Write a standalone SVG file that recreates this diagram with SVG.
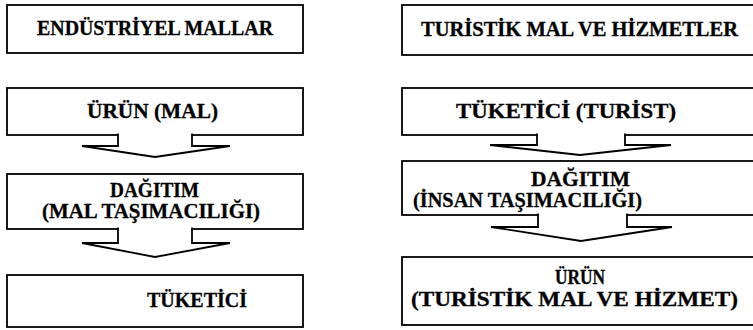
<svg xmlns="http://www.w3.org/2000/svg" width="753" height="330" viewBox="0 0 753 330">
  <style>
    .box { fill: #ffffff; stroke: #000000; stroke-width: 1.8; }
    .arrow { fill: #ffffff; stroke: #000000; stroke-width: 1.8; stroke-linejoin: miter; }
    .lbl { font-family: "Liberation Serif", "Times New Roman", serif; font-weight: bold; font-size: 20.5px; fill: #000000; stroke: #000000; stroke-width: 0.3; }
  </style>
  <rect width="753" height="330" fill="#ffffff"/>

  <!-- left column: industrial goods -->
  <g id="endustriyel-mallar">
    <rect class="box" x="7" y="5" width="296" height="48"/>
    <text class="lbl" x="37" y="35" textLength="236" lengthAdjust="spacingAndGlyphs">ENDÜSTRİYEL MALLAR</text>
  </g>
  <g id="urun-mal">
    <rect class="box" x="7" y="88" width="296" height="47"/>
    <text class="lbl" x="87" y="118" textLength="131" lengthAdjust="spacingAndGlyphs">ÜRÜN (MAL)</text>
  </g>
  <g id="dagitim-mal">
    <rect class="box" x="7" y="174" width="296" height="55"/>
    <text class="lbl" x="110" y="197" textLength="89" lengthAdjust="spacingAndGlyphs">DAĞITIM</text>
    <text class="lbl" x="42" y="218" textLength="218" lengthAdjust="spacingAndGlyphs">(MAL TAŞIMACILIĞI)</text>
  </g>
  <g id="tuketici">
    <rect class="box" x="7" y="275" width="296" height="52"/>
    <text class="lbl" x="147" y="307" textLength="100" lengthAdjust="spacingAndGlyphs">TÜKETİCİ</text>
  </g>

  <!-- right column: tourism goods and services -->
  <g id="turistik-mal-hizmetler">
    <rect class="box" x="402" y="5" width="360" height="50"/>
    <text class="lbl" x="421" y="36" textLength="317" lengthAdjust="spacingAndGlyphs">TURİSTİK MAL VE HİZMETLER</text>
  </g>
  <g id="tuketici-turist">
    <rect class="box" x="402" y="88" width="360" height="47"/>
    <text class="lbl" x="456" y="118" textLength="220" lengthAdjust="spacingAndGlyphs">TÜKETİCİ (TURİST)</text>
  </g>
  <g id="dagitim-insan">
    <rect class="box" x="402" y="161" width="360" height="54"/>
    <text class="lbl" x="531" y="186" textLength="99" lengthAdjust="spacingAndGlyphs">DAĞITIM</text>
    <text class="lbl" x="413" y="207" textLength="229" lengthAdjust="spacingAndGlyphs">(İNSAN TAŞIMACILIĞI)</text>
  </g>
  <g id="urun-turistik">
    <rect class="box" x="402" y="257" width="360" height="68"/>
    <text class="lbl" x="555" y="284" textLength="50" lengthAdjust="spacingAndGlyphs">ÜRÜN</text>
    <text class="lbl" x="411" y="306" textLength="327" lengthAdjust="spacingAndGlyphs">(TURİSTİK MAL VE HİZMET)</text>
  </g>

  <!-- block arrows growing out of the box bottoms -->
  <g id="connectors">
    <path class="arrow" d="M118,133.5 V146 H82 L155,157 L230,146 H192 V133.5"/>
    <path class="arrow" d="M118,227.5 V243 H82 L155,257 L230,243 H192 V227.5"/>
    <path class="arrow" d="M537,133.5 V145 H490 L580,155 L671,145 H625 V133.5"/>
    <path class="arrow" d="M538,213.5 V227 H491 L581,241 L672,227 H627 V213.5"/>
  </g>
</svg>
